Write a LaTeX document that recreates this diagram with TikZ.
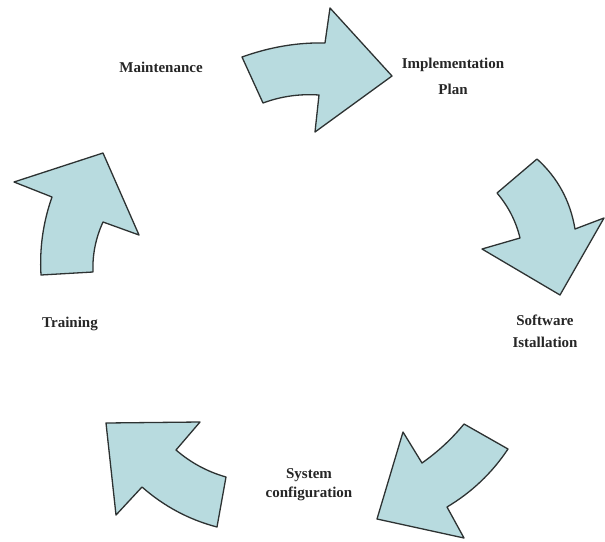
\documentclass[tikz,border=0pt]{standalone}
\usepackage{fontspec}
\setmainfont{Liberation Serif}
\definecolor{arrowfill}{RGB}{184,219,223}
\definecolor{arrowline}{RGB}{45,50,50}
\tikzset{
  cyclearrow/.style={fill=arrowfill, draw=arrowline, line width=1.3pt, line join=round},
  lbl/.style={font=\bfseries\fontsize{15}{18}\selectfont, inner sep=0pt, align=center, text=black!85}
}
\begin{document}
\begin{tikzpicture}[x=1pt,y=-1pt]
\useasboundingbox[fill=white] (0,0) rectangle (605,541);
% top arrow (Maintenance -> Implementation Plan)
\draw[cyclearrow] (242,57) .. controls (270,47) and (297.7,42.3) .. (325,43) -- (330,8) -- (392,76) -- (315,132) -- (319,95) .. controls (299.7,93.7) and (281,96.3) .. (263,103) -- cycle;
% right arrow
\draw[cyclearrow] (537,159) -- (497,193) .. controls (508.3,206.3) and (516,221.3) .. (520,238) -- (482,249) -- (560,295) -- (604,218) -- (575,229) .. controls (570.3,201) and (557.7,177.7) .. cycle;
% bottom right arrow
\draw[cyclearrow] (464,424) -- (508,449) .. controls (492,473) and (471.7,492.3) .. (447,507) -- (464,538) -- (377,519) -- (403,432) -- (422,463) .. controls (438,451.7) and (452,438.7) .. cycle;
% bottom left arrow
\draw[cyclearrow] (106,423) -- (200,422) -- (176,450) .. controls (190.7,462.7) and (207.3,471.7) .. (226,477) -- (217,527) .. controls (189,519.7) and (164,506.3) .. (142,487) -- (116,515) -- cycle;
% left arrow
\draw[cyclearrow] (103,153) -- (139,235) -- (103,222) .. controls (95.7,238) and (92.3,254.7) .. (93,272) -- (41,275) .. controls (39.4,248.3) and (43.1,222.3) .. (52,197) -- (14,182) -- cycle;
% labels
\node[lbl, anchor=base] (maint) at (161,72) {Maintenance};
\node[lbl, anchor=north, font=\bfseries\fontsize{15}{26}\selectfont] (impl) at (453,57.8) {Implementation\\Plan};
\node[lbl, anchor=north, font=\bfseries\fontsize{15}{22}\selectfont] (soft) at (545,314.8) {Software\\Istallation};
\node[lbl, anchor=north, font=\bfseries\fontsize{15}{19}\selectfont] (sys) at (309,468) {System\\configuration};
\node[lbl, anchor=base] (train) at (70,327) {Training};
\end{tikzpicture}
\end{document}
